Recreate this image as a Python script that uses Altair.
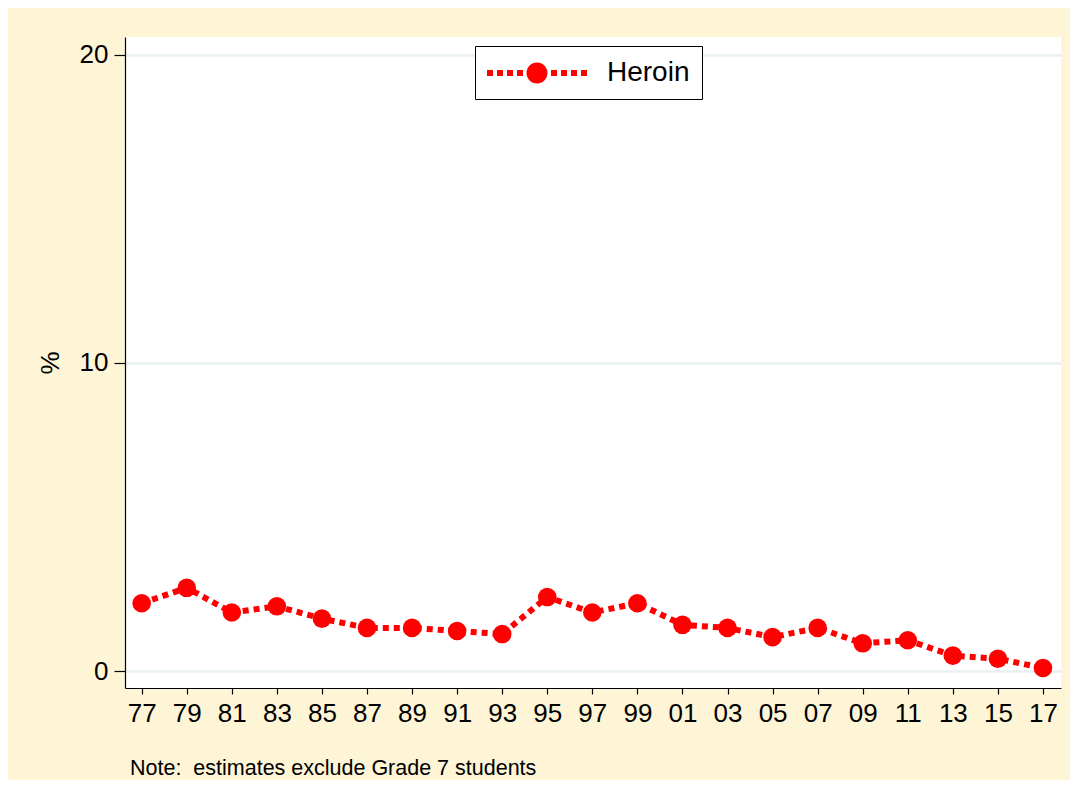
import altair as alt
import pandas as pd

years = [1977, 1979, 1981, 1983, 1985, 1987, 1989, 1991, 1993, 1995, 1997,
         1999, 2001, 2003, 2005, 2007, 2009, 2011, 2013, 2015, 2017]
heroin = [2.2, 2.7, 1.9, 2.1, 1.7, 1.4, 1.4, 1.3, 1.2, 2.4, 1.9,
          2.2, 1.5, 1.4, 1.1, 1.4, 0.9, 1.0, 0.5, 0.4, 0.1]
series_name = ["Heroin"] * len(years)
y_ticks = [0, 10, 20]
note = "Note:\u00a0 estimates exclude Grade 7 students"

df = pd.DataFrame({"year": years, "pct": heroin, "series": series_name})

FONT = "Liberation Sans, Arial, sans-serif"
RED = "#FF0000"

x_enc = alt.X("year:Q",
              scale=alt.Scale(domain=[1976.26, 2017.8], nice=False, zero=False),
              axis=alt.Axis(values=years, title=None,
                            labelExpr="substring(toString(datum.value), 2)",
                            grid=False, tickSize=6, labelPadding=6,
                            labelFontSize=26, labelFont=FONT, labelColor="#000000",
                            domainColor="#000000", tickColor="#000000",
                            domainWidth=1.2, tickWidth=1.2, labelFlush=False))
y_enc = alt.Y("pct:Q",
              scale=alt.Scale(domain=[-0.55, 20.57], nice=False, zero=False),
              axis=alt.Axis(values=y_ticks, title="%", titleAngle=270,
                            titleFontSize=26, titleFont=FONT, titleFontWeight="normal",
                            titleColor="#000000", titlePadding=16,
                            labelFontSize=26, labelFont=FONT, labelColor="#000000",
                            labelPadding=6, tickSize=11,
                            grid=True, gridColor="#E9F0F2", gridWidth=2.5,
                            domainColor="#000000", tickColor="#000000",
                            domainWidth=1.2, tickWidth=1.2))

line = alt.Chart(df).mark_line(color=RED, strokeWidth=6, strokeDash=[6, 5],
                               strokeCap="butt").encode(x=x_enc, y=y_enc)


def sq(a, b):
    return f"M{a},-0.2 L{b},-0.2 L{b},0.2 L{a},0.2 Z "


legend_path = (sq(-1, -0.6) + sq(-0.333, 0.067) + sq(0.333, 0.733) + sq(1.0, 1.4)
               + sq(3.267, 3.667) + sq(3.933, 4.333) + sq(4.6, 5.0) + sq(5.267, 5.667)
               + "M1.633,0 A0.7,0.7 0 1,0 3.033,0 A0.7,0.7 0 1,0 1.633,0 Z")

points = alt.Chart(df).mark_circle(size=346, opacity=1).encode(
    x=x_enc, y=y_enc,
    color=alt.Color("series:N",
                    scale=alt.Scale(domain=["Heroin"], range=[RED]),
                    legend=alt.Legend(title=None, orient="none",
                                      legendX=350, legendY=9,
                                      direction="vertical",
                                      symbolType=legend_path, symbolSize=900,
                                      symbolStrokeWidth=0, symbolOpacity=1,
                                      symbolFillColor=RED,
                                      labelFontSize=28, labelFont=FONT,
                                      labelColor="#000000", labelOffset=90,
                                      padding=12, strokeColor="#000000",
                                      fillColor="#FFFFFF", cornerRadius=0)))

chart = alt.layer(line, points).properties(
    width=936, height=651,
    background="#FEF5D7",
    padding={"left": 117, "top": 29, "right": 9, "bottom": 92},
    autosize=alt.AutoSizeParams(type="none"),
    title=alt.TitleParams(note, orient="bottom", anchor="start", frame="group",
                          dx=5, offset=32,
                          fontSize=21.5, font=FONT, fontWeight="normal",
                          color="#000000"),
).configure_view(fill="#FFFFFF", stroke=None)

chart.save("out.html", embed_options={"renderer": "svg", "actions": False})
